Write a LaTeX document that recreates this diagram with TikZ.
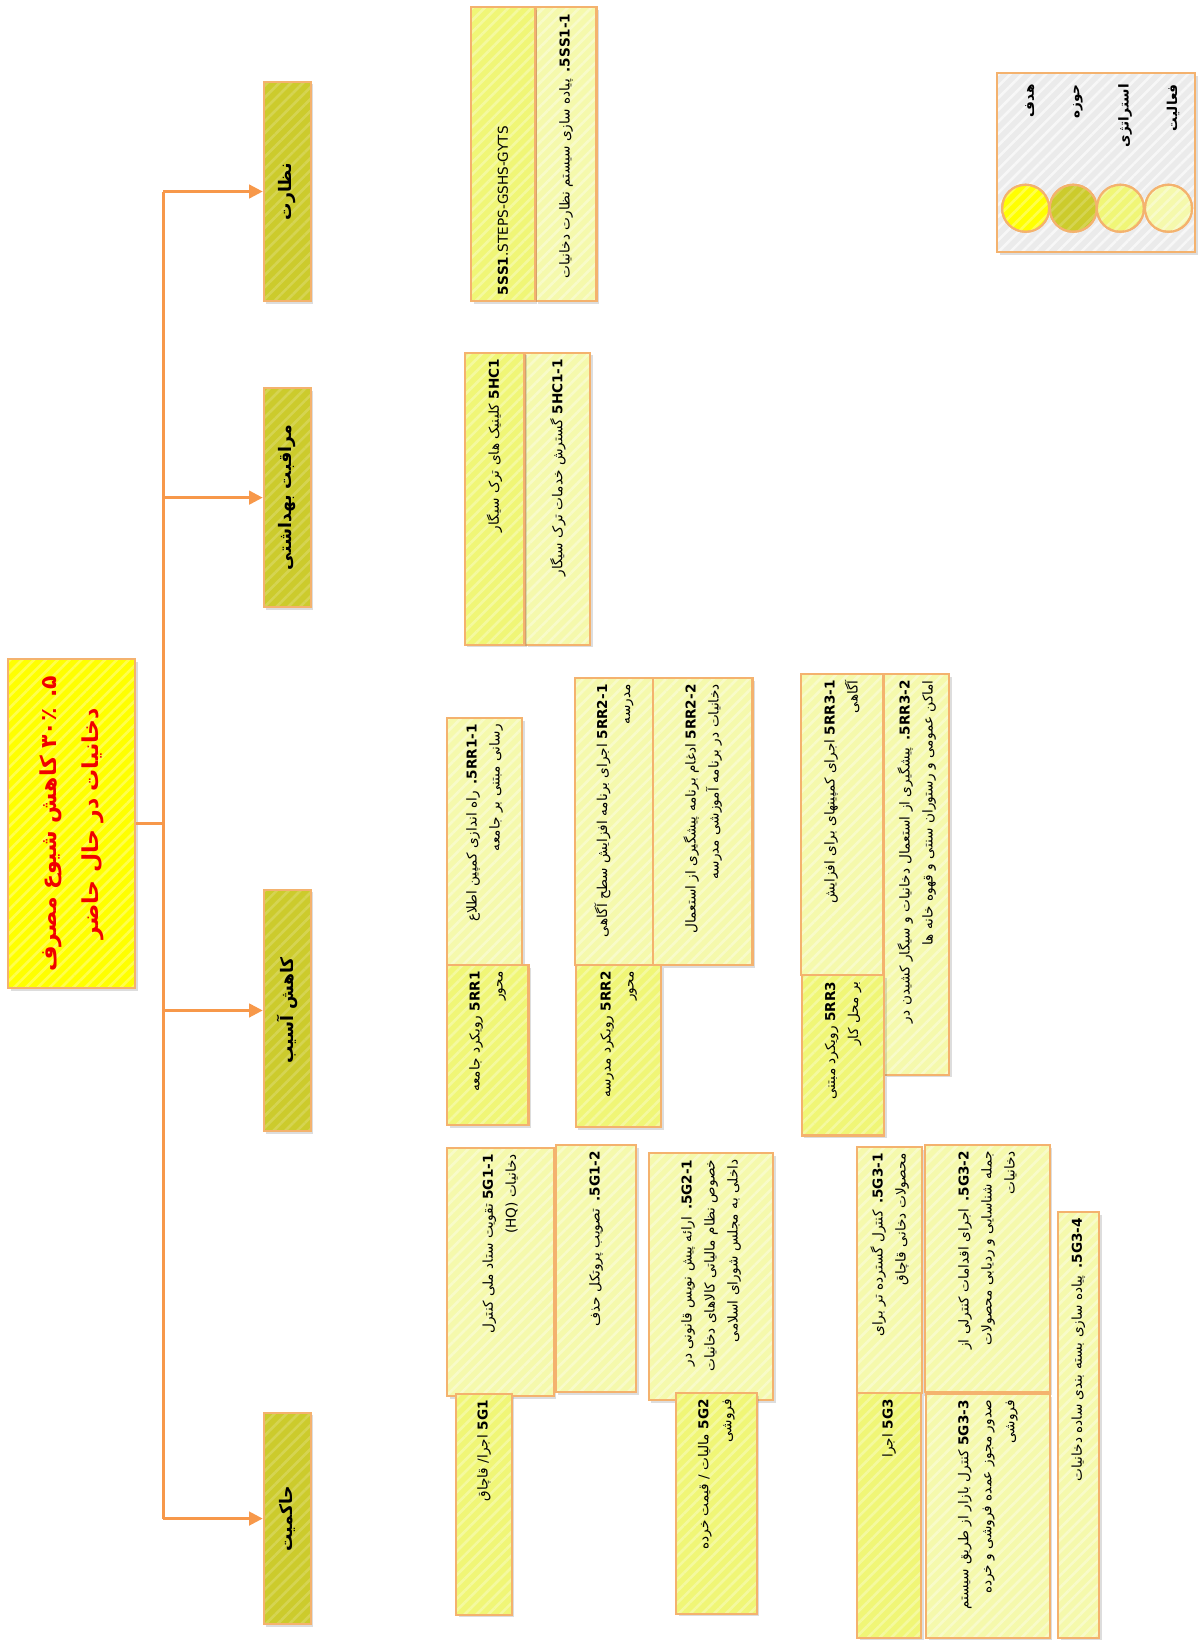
\documentclass[tikz,border=0pt]{standalone}
\usepackage{fontspec}
\usepackage{tikz}
\usetikzlibrary{arrows.meta, patterns.meta, shadows}
\newfontfamily\arabicfont[Script=Arabic]{DejaVu Sans}
\TeXXeTstate=1
\definecolor{goalyellow}{RGB}{255,255,0}
\definecolor{goalred}{RGB}{240,0,0}
\definecolor{areaolive}{RGB}{204,203,44}
\definecolor{stratyellow}{RGB}{240,246,118}
\definecolor{actyellow}{RGB}{245,249,172}
\definecolor{edgeorange}{RGB}{244,178,110}
\definecolor{linkorange}{RGB}{247,152,74}
\definecolor{legendgrey}{RGB}{235,235,235}
\newcommand{\fline}[1]{\mbox{\beginR #1\endR}}
\newcommand{\fcode}[1]{\beginL\textbf{#1}\endL}

\begin{document}
\begin{tikzpicture}[x=1pt, y=-1pt,
    hatch/.style={postaction={pattern={Lines[angle=45, distance=8pt, line width=2.5pt]}, pattern color=#1}, postaction={draw=edgeorange, line width=2pt}},
    shade/.style={drop shadow={shadow xshift=2.5pt, shadow yshift=-2.5pt, opacity=0.22, fill=black!60}},
    card/.style={draw=edgeorange, line width=2pt, rotate=90, align=right, inner xsep=6pt, inner ysep=2pt, shade, font=\arabicfont\fontsize{13}{22}\selectfont},
    dims/.style 2 args={minimum width=#1, minimum height=#2, text width=#1-12pt},
    goal/.style={card, fill=goalyellow, hatch=goalyellow!70!white, align=center, text=goalred, font=\arabicfont\bfseries\fontsize{21}{40}\selectfont},
    area/.style={card, fill=areaolive, hatch=areaolive!82!white, align=center, font=\arabicfont\bfseries\fontsize{16.5}{20}\selectfont},
    strat/.style={card, fill=stratyellow, hatch=stratyellow!70!white},
    act/.style={card, fill=actyellow, hatch=actyellow!65!white},
    link/.style={draw=linkorange, line width=2.5pt},
    arr/.style={link, -{Triangle[length=13pt, width=13pt]}},
    dot/.style={circle, draw=edgeorange, line width=2pt, minimum size=45pt, inner sep=0pt},
    key/.style={rotate=90, anchor=east, font=\arabicfont\bfseries\fontsize{13}{15}\selectfont}
]
\useasboundingbox (0,0) rectangle (1144,1568);

\node[goal, dims={314}{121}] (goal) at (68.5,787) {\fline{۵\kern0pt. ٪\kern0pt\beginL ۳۰\endL{} کاهش شیوع مصرف}\\\fline{دخانیات در حال حاضر}};

\node[area, dims={210}{45}] (watch) at (274.5,183) {\fline{نظارت}};
\node[area, dims={209}{45}] (care) at (274.5,475.5) {\fline{مراقبت بهداشتی}};
\node[area, dims={231}{45}] (harm) at (274.5,965.5) {\fline{کاهش آسیب}};
\node[area, dims={202}{45}] (gov) at (274.5,1451) {\fline{حاکمیت}};

\coordinate (spine) at (156,787);
\draw[link] (goal.south) -- (spine);
\draw[link] (spine |- watch.north) -- (spine |- gov.north);
\foreach \n in {watch, care, harm, gov}
  \draw[arr] (spine |- \n.north) -- (\n.north);

\node[act, dims={281}{58}] (ss11) at (541,147.5) {\fline{\fcode{5SS1-1}\textbf{.} پیاده سازی سیستم نظارت دخانیات}};
\node[act, dims={279}{62}] (hc11) at (533,476.5) {\fline{\fcode{5HC1-1} گسترش خدمات ترک سیگار}};
\node[act, dims={236}{72}] (rr11) at (463,804) {\fline{\fcode{5RR1-1}\textbf{.} راه اندازی کمپین اطلاع}\\\fline{رسانی مبتنی بر جامعه}};
\node[act, dims={274}{75}] (rr21) at (586.5,785) {\fline{\fcode{5RR2-1} اجرای برنامه افزایش سطح آگاهی}\\\fline{مدرسه}};
\node[act, dims={274}{95}] (rr22) at (671.5,785) {\fline{\fcode{5RR2-2} ادغام برنامه پیشگیری از استعمال}\\\fline{دخانیات در برنامه آموزشی مدرسه}};
\node[act, dims={288}{79}] (rr31) at (804.5,788) {\fline{\fcode{5RR3-1} اجرای کمپینهای برای افزایش}\\\fline{آگاهی}};
\node[act, dims={383}{62}] (rr32) at (876,835.5) {\fline{\fcode{5RR3-2}\textbf{.} پیشگیری از استعمال دخانیات و سیگار کشیدن در}\\\fline{اماکن عمومی و رستوران سنتی و قهوه خانه ها}};
\node[act, dims={237}{102}] (g11) at (478,1215.5) {\fline{\fcode{5G1-1} تقویت ستاد ملی کنترل}\\\fline{دخانیات \beginL(HQ)\endL}};
\node[act, dims={236}{77}] (g12) at (569.5,1212) {\fline{\fcode{5G1-2}\textbf{.} تصویب پروتکل حذف}};
\node[act, dims={236}{119}] (g21) at (679.5,1220) {\fline{\fcode{5G2-1}\textbf{.} ارائه پیش نویس قانونی در}\\\fline{خصوص نظام مالیاتی کالاهای دخانیات}\\\fline{داخلی به مجلس شورای اسلامی}};
\node[act, dims={235}{62}] (g31) at (850,1213.5) {\fline{\fcode{5G3-1}\textbf{.} کنترل گسترده تر برای}\\\fline{محصولات دخانی قاچاق}};
\node[act, dims={236}{119}] (g32) at (943.5,1212) {\fline{\fcode{5G3-2}\textbf{.} اجرای اقدامات کنترلی از}\\\fline{جمله شناسایی و ردیابی محصولات}\\\fline{دخانیات}};
\node[act, dims={233}{118}] (g33) at (944,1448.5) {\fline{\fcode{5G3-3} کنترل بازار از طریق سیستم}\\\fline{صدور مجوز عمده فروشی و خرده}\\\fline{فروشی}};
\node[act, dims={407}{39}] (g34) at (1030.5,1361.5) {\fline{\fcode{5G3-4}\textbf{.} پیاده سازی بسته بندی ساده دخانیات}};

\node[strat, dims={281}{61}, align=left] (ss1) at (480.5,147.5) {\textbf{5SS1}.STEPS-GSHS-GYTS};
\node[strat, dims={279}{57}] (hc1) at (472.5,476.5) {\fline{\fcode{5HC1} کلینیک های ترک سیگار}};
\node[strat, dims={153}{78}] (rr1) at (466,998.5) {\fline{\fcode{5RR1} رویکرد جامعه}\\\fline{محور}};
\node[strat, dims={155}{82}] (rr2) at (591,999.5) {\fline{\fcode{5RR2} رویکرد مدرسه}\\\fline{محور}};
\node[strat, dims={153}{79}] (rr3) at (805.5,1008.5) {\fline{\fcode{5RR3} رویکرد مبتنی}\\\fline{بر محل کار}};
\node[strat, dims={211}{53}] (g1) at (462.5,1437.5) {\fline{\fcode{5G1} اجرا\kern0pt/ قاچاق}};
\node[strat, dims={211}{77}] (g2) at (684.5,1436.5) {\fline{\fcode{5G2} مالیات / قیمت خرده}\\\fline{فروشی}};
\node[strat, dims={234}{61}] (g3) at (849.5,1448) {\fline{\fcode{5G3} اجرا}};

\node[draw=edgeorange, line width=2pt, fill=legendgrey, hatch=white!60!legendgrey, shade, minimum width=189, minimum height=171] (legend) at (1047.5,155.5) {};
\node[dot, fill=goalyellow, hatch=goalyellow!70!white] (kgoal) at (980,199) {};
\node[dot, fill=areaolive, hatch=areaolive!82!white] (karea) at (1025.5,199) {};
\node[dot, fill=stratyellow, hatch=stratyellow!70!white] (kstrat) at (1070.5,199) {};
\node[dot, fill=actyellow, hatch=actyellow!65!white] (kact) at (1116.5,199) {};
\node[key] (lgoal) at (984,77) {\fline{هدف}};
\node[key] (larea) at (1030,77) {\fline{حوزه}};
\node[key] (lstrat) at (1075,77) {\fline{استراتژی}};
\node[key] (lact) at (1121,77) {\fline{فعالیت}};
\end{tikzpicture}
\end{document}
